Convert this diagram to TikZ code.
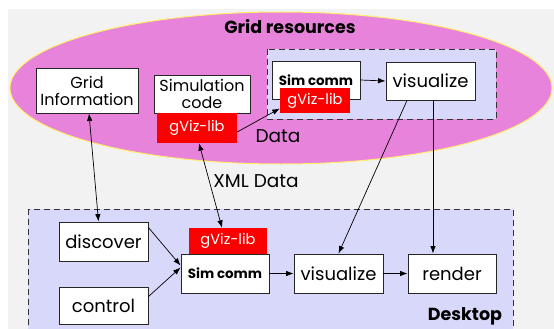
\documentclass[tikz,border=0pt]{standalone}
\usepackage{fontspec}
\setmainfont{Poppins}
\usetikzlibrary{arrows.meta,calc}
\definecolor{bggray}{RGB}{242,242,242}
\definecolor{orchidfill}{RGB}{231,131,218}
\definecolor{rimyellow}{RGB}{255,238,110}
\definecolor{lavender}{RGB}{216,216,250}
\definecolor{libred}{RGB}{250,0,0}
\tikzset{
  box/.style={draw=black!85, line width=0.9pt, fill=white, inner sep=0pt, font=\fontsize{18}{20}\selectfont},
  bbox/.style={box, font=\bfseries\fontsize{13.4}{15}\selectfont},
  lib/.style={fill=libred, text=white, inner sep=0pt, font=\fontsize{14.6}{16}\selectfont},
  zone/.style={draw=black!80, line width=0.9pt, dash pattern=on 6pt off 4pt, fill=lavender},
  arr/.style={-{Latex[length=7.5pt,width=5.5pt]}, line width=0.7pt},
  darr/.style={{Latex[length=7.5pt,width=5.5pt]}-{Latex[length=7.5pt,width=5.5pt]}, line width=0.7pt},
  caption/.style={font=\fontsize{18.5}{20}\selectfont},
  heading/.style={font=\bfseries\fontsize{17.5}{19}\selectfont}
}
\begin{document}
\begin{tikzpicture}[x=1pt,y=-1pt]
\useasboundingbox (0,0) rectangle (554,329);
\clip (0,0) rectangle (554,329);
\fill[white] (0,0) rectangle (554,329);
\fill[bggray] (8,9) rectangle (554,329);

% grid side
\draw[fill=orchidfill, draw=rimyellow, line width=1pt] (281,88) ellipse [x radius=271, y radius=76];
\node[heading] (gridtitle) at (290,27) {Grid resources};
\draw[zone] (267,49) rectangle (496,119);

\node[box, minimum width=102pt, minimum height=45pt, align=center, font=\fontsize{16}{17}\selectfont] (gi) at (87,90.5) {Grid\\Information};
\node[box, minimum width=96pt, minimum height=38pt, align=center, font=\fontsize{16}{17}\selectfont] (sim) at (202,94) {Simulation\\code};
\node[lib, minimum width=80pt, minimum height=30pt] (simG) at (197,128) {gViz-lib};

\node[bbox, minimum width=88pt, minimum height=38pt] (simT) at (316,80) {Sim comm};
\node[lib, minimum width=70pt, minimum height=25pt] (topG) at (315,100.5) {gViz-lib};
\node[box, minimum width=89pt, minimum height=38pt] (visT) at (430.5,81) {visualize};
\node[caption] (datalbl) at (278,136) {Data};

\node[caption] (xmllbl) at (256,181) {XML Data};

% desktop side
\draw[zone] (28,209) rectangle (513,345);
\node[heading] (desk) at (465,316) {Desktop};

\node[box, minimum width=89pt, minimum height=39pt] (disc) at (103.5,241.5) {discover};
\node[box, minimum width=89pt, minimum height=37pt] (ctrl) at (103.5,305.5) {control};
\node[lib, minimum width=78pt, minimum height=26pt] (lowG) at (228,241) {gViz-lib};
\node[bbox, minimum width=88pt, minimum height=39pt] (simL) at (225,273.5) {Sim comm};
\node[box, minimum width=89pt, minimum height=39pt] (visL) at (338.5,273.5) {visualize};
\node[box, minimum width=88pt, minimum height=39pt] (rend) at (452,273.5) {render\hspace{12pt}};

% connectors
\draw[arr] (simT.east) -- (visT.west);
\draw[arr] ([yshift=-4pt]simG.east) -- ([yshift=-8pt]topG.west);
\draw[darr] ([xshift=2pt]gi.south) -- ([xshift=-5pt]disc.north);
\draw[darr] ([xshift=2pt]simG.south) -- ([xshift=-6pt]lowG.north);
\draw[arr] ([yshift=-6pt]disc.north east) -- ([yshift=8pt]simL.west);
\draw[arr] ([yshift=-10pt]ctrl.north east) -- ([yshift=6pt]simL.west);
\draw[arr] (simL.east) -- (visL.west);
\draw[arr] (visL.east) -- (rend.west);
\draw[arr] ([xshift=-23.5pt]visT.south) -- (visL.north);
\draw[arr] ([xshift=2.5pt]visT.south) -- ([xshift=2.5pt]visT.south |- rend.north);
\end{tikzpicture}
\end{document}
